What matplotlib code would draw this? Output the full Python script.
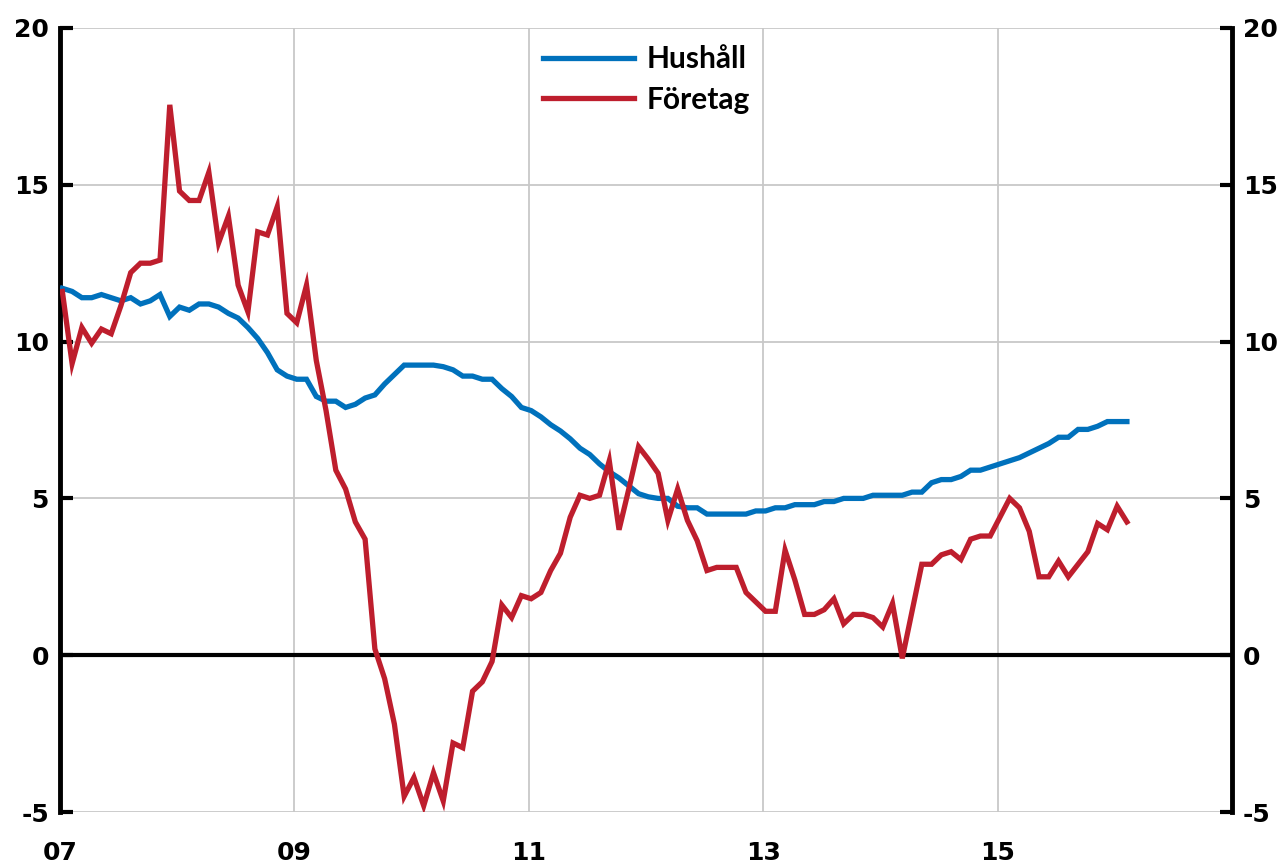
import matplotlib
matplotlib.use("Agg")
import matplotlib.pyplot as plt
import numpy as np

hushall = [11.7, 11.6, 11.4, 11.4, 11.5, 11.4, 11.3, 11.4, 11.2, 11.3, 11.5, 10.8,
           11.1, 11.0, 11.2, 11.2, 11.1, 10.9, 10.75, 10.45, 10.1, 9.65, 9.1, 8.9,
           8.8, 8.8, 8.25, 8.1, 8.1, 7.9, 8.0, 8.2, 8.3, 8.65, 8.95, 9.25,
           9.25, 9.25, 9.25, 9.2, 9.1, 8.9, 8.9, 8.8, 8.8, 8.5, 8.25, 7.9,
           7.8, 7.6, 7.35, 7.15, 6.9, 6.6, 6.4, 6.1, 5.85, 5.65, 5.4, 5.15,
           5.05, 5.0, 5.0, 4.75, 4.7, 4.7, 4.5, 4.5, 4.5, 4.5, 4.5, 4.6,
           4.6, 4.7, 4.7, 4.8, 4.8, 4.8, 4.9, 4.9, 5.0, 5.0, 5.0, 5.1,
           5.1, 5.1, 5.1, 5.2, 5.2, 5.5, 5.6, 5.6, 5.7, 5.9, 5.9, 6.0,
           6.1, 6.2, 6.3, 6.45, 6.6, 6.75, 6.95, 6.95, 7.2, 7.2, 7.3, 7.45,
           7.45, 7.45]

foretag = [11.6, 9.3, 10.45, 9.95, 10.4, 10.25, 11.15, 12.2, 12.5, 12.5, 12.6, 17.55,
           14.8, 14.5, 14.5, 15.4, 13.15, 14.0, 11.8, 10.95, 13.5, 13.4, 14.3, 10.9,
           10.6, 11.8, 9.4, 7.8, 5.9, 5.3, 4.25, 3.7, 0.2, -0.75, -2.2, -4.5,
           -3.9, -4.8, -3.75, -4.65, -2.8, -2.95, -1.15, -0.85, -0.2, 1.6, 1.2, 1.9,
           1.8, 2.0, 2.7, 3.25, 4.4, 5.1, 5.0, 5.1, 6.2, 4.0, 5.3, 6.65,
           6.25, 5.8, 4.3, 5.3, 4.3, 3.65, 2.7, 2.8, 2.8, 2.8, 2.0, 1.7,
           1.4, 1.4, 3.35, 2.4, 1.3, 1.3, 1.45, 1.8, 1.0, 1.3, 1.3, 1.2,
           0.9, 1.65, -0.1, 1.4, 2.9, 2.9, 3.2, 3.3, 3.05, 3.7, 3.8, 3.8,
           4.4, 5.0, 4.7, 3.95, 2.5, 2.5, 3.0, 2.5, 2.9, 3.3, 4.2, 4.0,
           4.75, 4.25]

start_year = 2007
x_ticks = [2007, 2009, 2011, 2013, 2015]
x_tick_labels = ["07", "09", "11", "13", "15"]
y_ticks = [-5, 0, 5, 10, 15, 20]
series_labels = ["Hushåll", "Företag"]

t = start_year + np.arange(len(hushall)) / 12.0 + 0.02

fig = plt.figure(figsize=(12.83, 8.65), dpi=100)
ax = fig.add_axes([60/1283, 1-812/865, (1232-60)/1283, (812-28)/865])

blue = "#0071BC"
red = "#BE1E2D"

ax.set_xlim(2007, 2017)
ax.set_ylim(-5, 20)

for y in y_ticks:
    if y != 0:
        ax.axhline(y, color="#c8c8c8", lw=1.3, zorder=0)
for x in [2009, 2011, 2013, 2015]:
    ax.axvline(x, color="#c8c8c8", lw=1.3, zorder=0)
ax.axhline(0, color="black", lw=3, zorder=1)

l1, = ax.plot(t, hushall, color=blue, lw=3.8, zorder=3, solid_joinstyle="miter")
l2, = ax.plot(t, foretag, color=red, lw=3.8, zorder=3, solid_joinstyle="miter")

for s in ["top", "bottom"]:
    ax.spines[s].set_visible(False)
for s in ["left", "right"]:
    ax.spines[s].set_linewidth(3.5)
    ax.spines[s].set_color("black")

ax.set_yticks(y_ticks)
ax.set_yticklabels([str(v) for v in y_ticks])
ax.tick_params(axis="y", which="both", direction="in", length=9, width=3,
               left=True, right=True, labelleft=True, labelright=True,
               labelsize=18, pad=8)
ax.set_xticks(x_ticks)
ax.set_xticklabels(x_tick_labels)
ax.tick_params(axis="x", length=0, labelsize=18, pad=21)
for lab in ax.get_xticklabels() + ax.get_yticklabels():
    lab.set_fontweight("bold")
for tl in ax.yaxis.get_major_ticks():
    tl.label2.set_fontweight("bold")

leg = ax.legend([l1, l2], series_labels, loc="upper left",
                bbox_to_anchor=(543/1283, 1-45/865), bbox_transform=fig.transFigure,
                frameon=False, handlelength=3.05, handletextpad=0.43,
                labelspacing=0.43, borderpad=0, borderaxespad=0,
                prop={"family": "Lato", "weight": "bold", "size": 21.5})

fig.savefig("out.png", dpi=100)
